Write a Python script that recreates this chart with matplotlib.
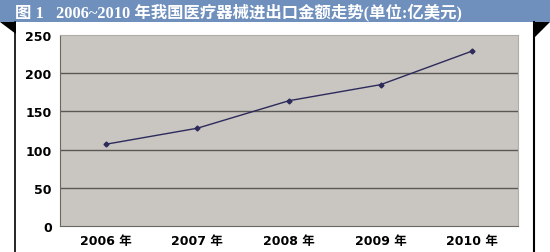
import matplotlib.pyplot as plt
from matplotlib.patches import Rectangle, Polygon
from matplotlib.lines import Line2D

# --- DATA ---
years = ["2006 年", "2007 年", "2008 年", "2009 年", "2010 年"]
values = [107, 128, 164, 185, 229]
y_ticks = [0, 50, 100, 150, 200, 250]
title = "图 1   2006~2010 年我国医疗器械进出口金额走势(单位:亿美元)"

W, H = 550, 253
fig = plt.figure(figsize=(W / 100, H / 100), dpi=100)
fig.patch.set_facecolor("white")

def fx(px):
    return px / W

def fy(py):
    return 1 - py / H

# title band
fig.patches.append(Rectangle((0, fy(23)), 1, 23 / H, transform=fig.transFigure,
                             facecolor="#6f8fbd", edgecolor="none", zorder=0))
fig.text(fx(15), fy(12), title, color="white", fontsize=11.8, fontweight="bold",
         va="center", ha="left", family=["Liberation Serif", "Noto Sans CJK SC"])

# frame lines and corner triangles
fig.lines.append(Line2D([fx(15), fx(15)], [fy(23), 0], transform=fig.transFigure,
                        color="black", lw=1.2))
fig.lines.append(Line2D([fx(534), fx(534)], [fy(23), 0], transform=fig.transFigure,
                        color="black", lw=1.5))
fig.patches.append(Polygon([(0, fy(23)), (fx(16), fy(23)), (fx(16), fy(35))],
                           closed=True, transform=fig.transFigure,
                           facecolor="black", edgecolor="none"))
fig.patches.append(Polygon([(fx(533), fy(23)), (fx(550), fy(23)), (fx(533), fy(40))],
                           closed=True, transform=fig.transFigure,
                           facecolor="black", edgecolor="none"))

# plot area
ax = fig.add_axes([fx(60), fy(227), fx(518) - fx(60), (227 - 36) / H])
ax.set_facecolor("#c9c5c0")
x = list(range(len(years)))
ax.plot(x, values, color="#2d2a5c", lw=1.0, marker="D", markersize=2.5, zorder=3)
ax.set_xlim(-0.5, len(years) - 0.5)
ax.set_ylim(0, 250)
ax.set_yticks(y_ticks)
ax.set_xticks(x)
ax.set_xticklabels(years)
for v in y_ticks[1:-1]:
    ax.axhline(v, color="#5a5855", lw=1.0, zorder=1)

for s in ["top", "right"]:
    ax.spines[s].set_color("#b0aca7")
ax.spines["left"].set_color("#6a6864")
ax.spines["bottom"].set_color("#6a6864")
ax.tick_params(length=0, pad=6)
for lbl in ax.get_yticklabels() + ax.get_xticklabels():
    lbl.set_family(["DejaVu Sans", "Noto Sans CJK SC"])
    lbl.set_fontweight("bold")
    lbl.set_fontsize(9)
    lbl.set_color("black")

plt.savefig("out.png", dpi=100)
plt.close()
